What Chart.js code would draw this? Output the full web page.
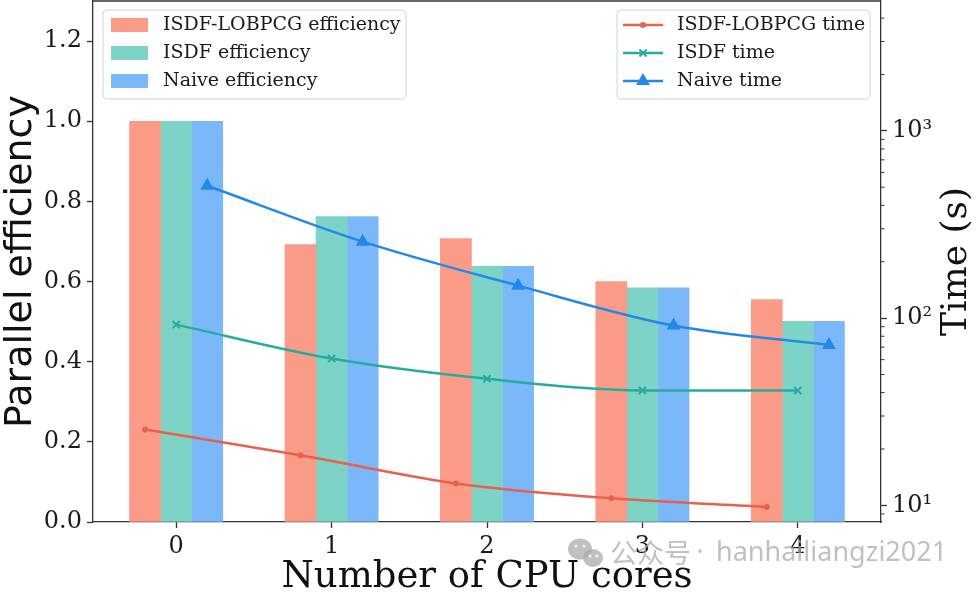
<!DOCTYPE html>
<html><head><meta charset="utf-8">
<script src="https://cdn.jsdelivr.net/npm/chart.js@4.4.1/dist/chart.umd.min.js"></script>
<style>html,body{margin:0;padding:0;background:#fff;overflow:hidden}</style>
</head><body>
<canvas id="c" width="977" height="593"></canvas>
<script>
// ---- data ----
const cores = [0, 1, 2, 3, 4];
const xTickLabels = ['0', '1', '2', '3', '4'];
const effLobpcg = [1.0, 0.692, 0.707, 0.600, 0.555];
const effIsdf   = [1.0, 0.762, 0.638, 0.584, 0.501];
const effNaive  = [1.0, 0.762, 0.638, 0.584, 0.501];
const timeLobpcg = [25.4, 18.5, 13.1, 10.9, 9.8];
const timeIsdf   = [92.3, 60.8, 47.4, 41.1, 41.0];
const timeNaive  = [509, 256, 149, 91.2, 71.9];
const effTicks = [0, 0.2, 0.4, 0.6, 0.8, 1.0, 1.2];
const timeMajorTicks = [10, 100, 1000];
const timeTickLabels = ['10\u00B9', '10\u00B2', '10\u00B3'];
const timeAxisTitle = 'Time (s)';
const watermarkText = ['\u516C\u4F17\u53F7', '\u00B7', 'hanhailiangzi2021'];

// ---- styles ----
const C = {
  barRed: 'rgb(250,155,136)', barTeal: 'rgb(125,211,198)', barBlue: 'rgb(122,184,250)',
  lineRed: 'rgb(232,96,78)', lineTeal: 'rgb(38,172,158)', lineBlue: 'rgb(36,136,232)'
};
const AX = '#333';
const serif = 'DejaVu Serif';

const barOffset = [-0.2, 0, 0.2];
const pts = (xs, ys, off) => xs.map((x, i) => ({x: x + off, y: ys[i]}));

function barDS(label, vals, off, color) {
  return {type: 'bar', label, data: pts(cores, vals, off), xAxisID: 'x', yAxisID: 'y',
    backgroundColor: color, borderWidth: 0, grouped: false,
    categoryPercentage: 1, barPercentage: 1, order: 2};
}
function lineDS(label, vals, off, color, style, r) {
  return {type: 'line', label, data: pts(cores, vals, off), xAxisID: 'x', yAxisID: 'y2',
    borderColor: color, backgroundColor: color, borderWidth: 2.5,
    pointStyle: style, pointRadius: r, pointBorderWidth: 2, pointBorderColor: color, pointBackgroundColor: color,
    cubicInterpolationMode: 'monotone', fill: false, order: 1};
}

const datasets = [
  barDS('ISDF-LOBPCG efficiency', effLobpcg, barOffset[0], C.barRed),
  barDS('ISDF efficiency', effIsdf, barOffset[1], C.barTeal),
  barDS('Naive efficiency', effNaive, barOffset[2], C.barBlue),
  lineDS('ISDF-LOBPCG time', timeLobpcg, barOffset[0], C.lineRed, 'circle', 2),
  lineDS('ISDF time', timeIsdf, barOffset[1], C.lineTeal, 'crossRot', 5),
  lineDS('Naive time', timeNaive, barOffset[2], C.lineBlue, 'triangle', 6)
];

function minorLogTicks(min, max) {
  const out = [];
  for (let e = Math.floor(Math.log10(min)); e <= Math.ceil(Math.log10(max)); e++) {
    for (let m = 2; m <= 9; m++) {
      const v = m * Math.pow(10, e);
      if (v >= min && v <= max) out.push(v);
    }
  }
  return out;
}

function drawLegend(ctx, x, y, w, h, items, isLine) {
  ctx.save();
  ctx.beginPath();
  ctx.roundRect(x, y, w, h, 4);
  ctx.fillStyle = 'rgba(255,255,255,0.85)';
  ctx.fill();
  ctx.strokeStyle = '#d4d4d4';
  ctx.lineWidth = 1;
  ctx.stroke();
  ctx.font = '19px "' + serif + '"';
  ctx.textBaseline = 'middle';
  ctx.textAlign = 'left';
  items.forEach((ds, i) => {
    const cy = y + 15 + i * 28;
    if (isLine) {
      ctx.strokeStyle = ds.borderColor;
      ctx.lineWidth = 2.5;
      ctx.beginPath();
      ctx.moveTo(x + 6, cy); ctx.lineTo(x + 46, cy);
      ctx.stroke();
      ctx.fillStyle = ds.borderColor;
      ctx.lineWidth = 2;
      Chart.helpers.drawPoint(ctx, {pointStyle: ds.pointStyle, radius: ds.pointRadius, borderWidth: 2, rotation: 0}, x + 26, cy);
      ctx.fillStyle = '#1a1a1a';
      ctx.fillText(ds.label, x + 60, cy);
    } else {
      ctx.fillStyle = ds.backgroundColor;
      ctx.fillRect(x + 8, cy - 7, 37, 14);
      ctx.fillStyle = '#1a1a1a';
      ctx.fillText(ds.label, x + 60, cy);
    }
  });
  ctx.restore();
}

const decor = {
  id: 'decor',
  afterDraw(chart) {
    const {ctx, chartArea: a, scales} = chart;
    ctx.save();
    // top spine
    ctx.strokeStyle = AX; ctx.lineWidth = 1.3;
    ctx.beginPath(); ctx.moveTo(a.left, a.top); ctx.lineTo(a.right, a.top); ctx.stroke();
    // minor ticks of log axis
    const y2 = scales.y2;
    ctx.lineWidth = 1;
    minorLogTicks(y2.min, y2.max).forEach(v => {
      const py = y2.getPixelForValue(v);
      ctx.beginPath(); ctx.moveTo(a.right, py); ctx.lineTo(a.right + 3.5, py); ctx.stroke();
    });
    // right title
    ctx.translate(957, (a.top + a.bottom) / 2);
    ctx.rotate(-Math.PI / 2);
    ctx.font = '36px "' + serif + '"';
    ctx.fillStyle = '#111';
    ctx.textAlign = 'center'; ctx.textBaseline = 'middle';
    ctx.fillText(timeAxisTitle, 0, 0);
    ctx.restore();

    const ds = chart.data.datasets;
    drawLegend(ctx, a.left + 10, a.top + 9, 303, 89, ds.slice(0, 3), false);
    drawLegend(ctx, a.right - 264, a.top + 9, 253, 89, ds.slice(3), true);

    // watermark
    ctx.save();
    ctx.globalAlpha = 0.75;
    ctx.fillStyle = '#ababab';
    ctx.beginPath(); ctx.ellipse(580, 549, 12, 10.5, 0, 0, Math.PI * 2); ctx.fill();
    ctx.beginPath(); ctx.ellipse(593, 558, 10, 9, 0, 0, Math.PI * 2); ctx.fill();
    ctx.fillStyle = '#fff';
    [[576, 546], [584, 546], [590, 556], [597, 556]].forEach(p => { ctx.beginPath(); ctx.arc(p[0], p[1], 1.6, 0, Math.PI * 2); ctx.fill(); });
    ctx.fillStyle = '#ababab';
    ctx.textBaseline = 'middle'; ctx.textAlign = 'left';
    ctx.font = '27px "Noto Sans CJK SC"';
    ctx.fillText(watermarkText[0], 610, 553);
    ctx.font = '27px "Noto Sans"';
    ctx.textAlign = 'center';
    ctx.fillText(watermarkText[1], 700, 553);
    ctx.textAlign = 'left';
    ctx.fillText(watermarkText[2], 716, 553);
    ctx.restore();
  }
};

const tickFont = {family: serif, size: 24};
const zeroPad = s => { s.paddingTop = 0; s.paddingBottom = 0; s.paddingLeft = 0; s.paddingRight = 0; };

new Chart(document.getElementById('c'), {
  data: {datasets},
  options: {
    responsive: false, animation: false, devicePixelRatio: 1,
    layout: {autoPadding: false, padding: {top: 1, left: 0, right: 0, bottom: 0}},
    plugins: {legend: {display: false}, tooltip: {enabled: false}},
    scales: {
      x: {
        type: 'linear', position: 'bottom', min: -0.535, max: 4.535, offset: false,
        afterFit: s => { s.height = 71; zeroPad(s); },
        afterBuildTicks: s => { s.ticks = cores.map(v => ({value: v})); },
        grid: {display: true, offset: false, drawOnChartArea: false, drawTicks: true, tickLength: 6, tickColor: AX, tickWidth: 1.3},
        border: {display: true, color: AX, width: 1.3},
        ticks: {font: tickFont, color: '#1a1a1a', padding: 4, maxRotation: 0, autoSkip: false,
          callback: (v, i) => xTickLabels[i]},
        title: {display: true, text: 'Number of CPU cores', color: '#111',
          font: {family: serif, size: 37}, padding: {top: 0, bottom: -7}}
      },
      y: {
        type: 'linear', position: 'left', min: 0, max: 1.3,
        afterFit: s => { s.width = 93; zeroPad(s); },
        afterBuildTicks: s => { s.ticks = effTicks.map(v => ({value: v})); },
        grid: {display: true, drawOnChartArea: false, drawTicks: true, tickLength: 6, tickColor: AX, tickWidth: 1.3},
        border: {display: true, color: AX, width: 1.3},
        ticks: {font: tickFont, color: '#1a1a1a', padding: 5, callback: v => v.toFixed(1)},
        title: {display: true, text: 'Parallel efficiency', color: '#111',
          font: {family: 'DejaVu Sans', size: 38}, padding: {top: -2, bottom: 0}}
      },
      y2: {
        type: 'logarithmic', position: 'right', min: 8.15, max: 4935,
        afterFit: s => { s.width = 96; zeroPad(s); },
        afterBuildTicks: s => { s.ticks = timeMajorTicks.map(v => ({value: v, major: true})); },
        grid: {display: true, drawOnChartArea: false, drawTicks: true, tickLength: 6, tickColor: AX, tickWidth: 1.3},
        border: {display: true, color: AX, width: 1.3},
        ticks: {font: tickFont, color: '#1a1a1a', padding: 5, callback: (v, i) => timeTickLabels[i]}
      }
    }
  },
  plugins: [decor]
});
</script>
</body></html>
